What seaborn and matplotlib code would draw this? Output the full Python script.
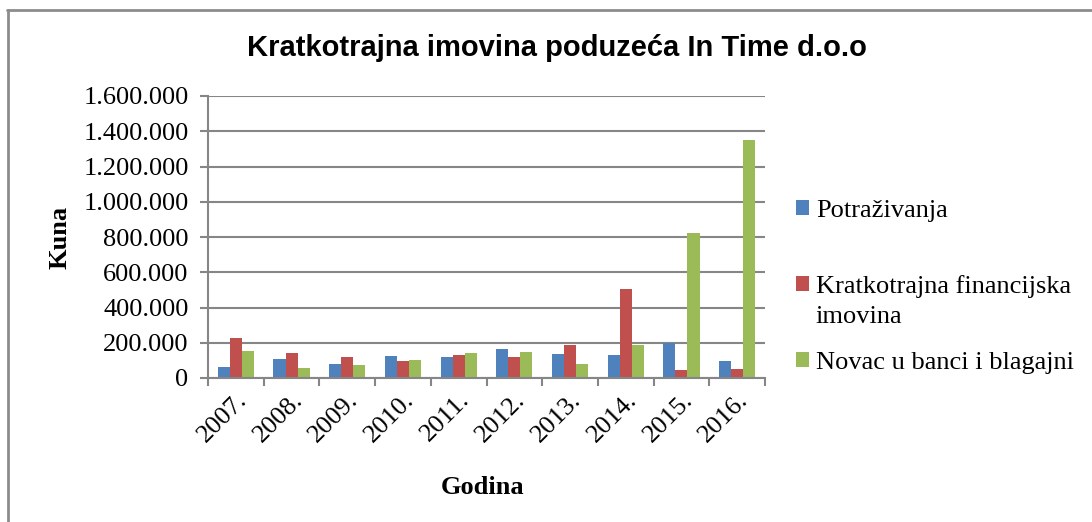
import matplotlib
matplotlib.use("Agg")
import matplotlib.pyplot as plt
import seaborn as sns
import pandas as pd
from matplotlib.ticker import FuncFormatter, FixedLocator
from matplotlib.lines import Line2D
from matplotlib.patches import Patch

years = ["2007.", "2008.", "2009.", "2010.", "2011.", "2012.", "2013.", "2014.", "2015.", "2016."]
potrazivanja = [64000, 108000, 80000, 127000, 121000, 165000, 134000, 131000, 199000, 98000]
financijska = [225000, 144000, 119000, 95000, 133000, 117000, 186000, 506000, 44000, 49000]
novac = [155000, 59000, 76000, 102000, 144000, 148000, 78000, 186000, 820000, 1348000]
series_names = ["Potraživanja", "Kratkotrajna financijska imovina", "Novac u banci i blagajni"]
legend_lines = ["Potraživanja", "Kratkotrajna financijska", "Novac u banci i blagajni"]
legend_wrap = "imovina"
colors = ["#4F81BD", "#C0504D", "#9BBB59"]

rows = []
for name, vals in zip(series_names, [potrazivanja, financijska, novac]):
    for y, v in zip(years, vals):
        rows.append({"Godina": y, "Kuna": v, "Serija": name})
df = pd.DataFrame(rows)

sns.set_style("white")
plt.rcParams["font.family"] = ["Liberation Serif", "DejaVu Serif"]
for k in ["text.color", "axes.labelcolor", "xtick.color", "ytick.color"]:
    plt.rcParams[k] = "black"

fig = plt.figure(figsize=(10.92, 5.22), dpi=100)
ax = fig.add_axes([208 / 1092, 1 - 378 / 522, (765 - 208) / 1092, (378 - 96) / 522])

sns.barplot(data=df, x="Godina", y="Kuna", hue="Serija", palette=colors,
            width=0.65, gap=0, saturation=1, ax=ax, legend=False, errorbar=None,
            linewidth=0)

ax.set_xlim(-0.5, 9.5)
ax.set_ylim(0, 1600000)
ax.set_yticks(range(0, 1600001, 200000))
ax.yaxis.set_major_formatter(FuncFormatter(lambda v, p: f"{int(v):,}".replace(",", ".")))
ax.grid(axis="y", color="#868686", linewidth=1.5)
ax.set_axisbelow(True)
for s in ["top", "right"]:
    ax.spines[s].set_visible(False)
for s in ["left", "bottom"]:
    ax.spines[s].set_color("#868686")
    ax.spines[s].set_linewidth(1.5)

ax.tick_params(axis="y", which="major", length=6, width=1.5, color="#868686",
               labelsize=19, pad=8, left=True, labelcolor="black")
ax.tick_params(axis="x", which="major", length=0, labelsize=19, pad=8, labelcolor="black")
ax.xaxis.set_minor_locator(FixedLocator([i - 0.5 for i in range(11)]))
ax.tick_params(axis="x", which="minor", length=6, width=1.5, color="#868686", bottom=True)
plt.setp(ax.get_xticklabels(), rotation=45, ha="right", va="top", rotation_mode="anchor")

ax.set_xlabel("Godina", fontsize=19, fontweight="bold", va="center")
ax.set_ylabel("Kuna", fontsize=19, fontweight="bold", va="center")
ax.xaxis.set_label_coords((483 - 208) / 557, (378 - 487) / 282)
ax.yaxis.set_label_coords((60 - 208) / 557, 0.5)

fig.text(557 / 1092, 1 - 48 / 522, "Kratkotrajna imovina poduzeća In Time d.o.o",
         ha="center", va="center", fontsize=21, fontweight="bold", color="black",
         family=["Liberation Sans", "DejaVu Sans"])

handles = [Patch(facecolor=c, edgecolor="none") for c in colors]
leg = ax.legend(handles, legend_lines, loc="upper left",
                bbox_to_anchor=(796 / 1092, 1 - 200 / 522), bbox_transform=fig.transFigure,
                frameon=False, fontsize=19, handlelength=0.5, handleheight=0.5,
                handletextpad=0.25, labelspacing=2.02, borderaxespad=0, borderpad=0)

# second line of the wrapped legend label, placed under its first line
fig.canvas.draw()
bb = leg.get_texts()[1].get_window_extent()
fig.text(bb.x0 / fig.bbox.width, (bb.y0 - 30) / fig.bbox.height, legend_wrap,
         ha="left", va="bottom", fontsize=19, color="black")

fig.add_artist(Line2D([7 / 1092, 1], [1 - 9.5 / 522, 1 - 9.5 / 522], color="#8c8c8c", linewidth=2))
fig.add_artist(Line2D([7.5 / 1092, 7.5 / 1092], [0, 1 - 9.5 / 522], color="#8c8c8c", linewidth=2))

fig.savefig("out.png", dpi=100, facecolor="white")
